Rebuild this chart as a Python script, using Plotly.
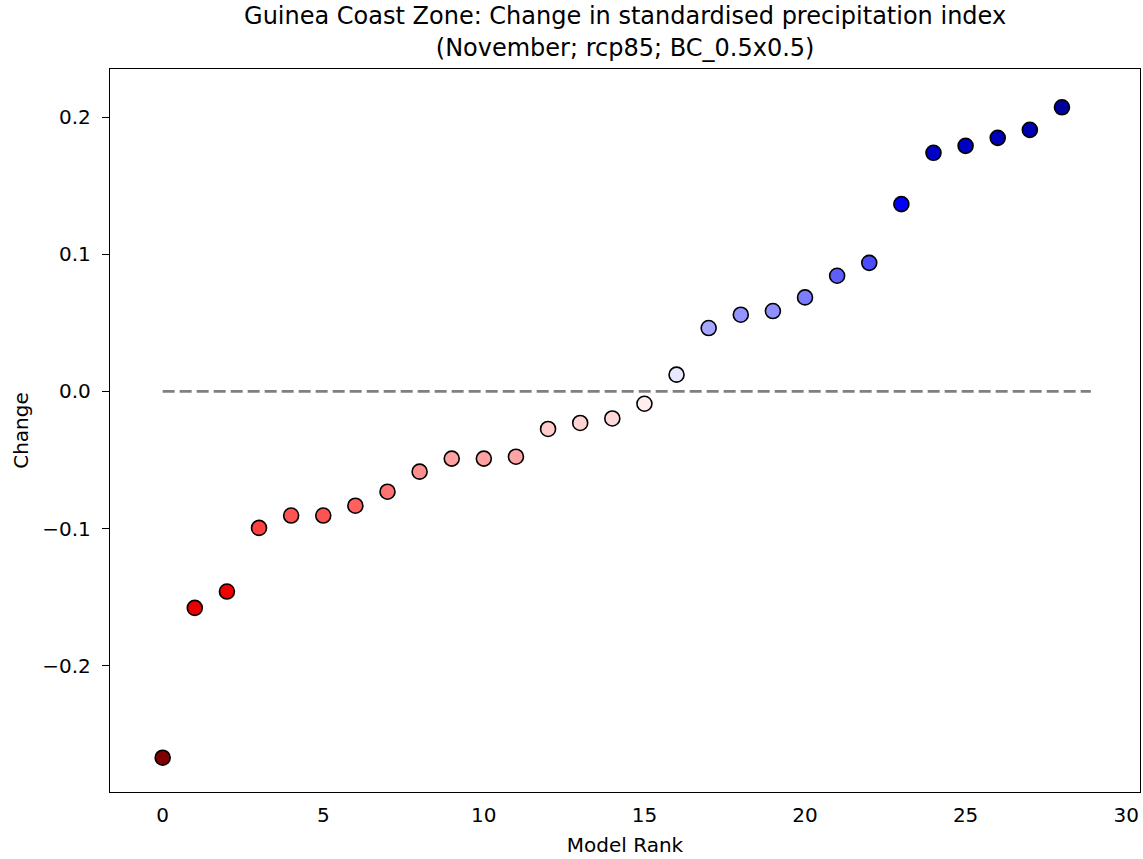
import plotly.graph_objects as go

# ---- data ----
model_rank = list(range(29))
change = [-0.267, -0.1578, -0.1459, -0.0995, -0.0905, -0.0905, -0.0833, -0.0731,
          -0.0585, -0.0490, -0.0490, -0.0476, -0.0274, -0.0230, -0.0197, -0.0090,
          0.0122, 0.0462, 0.0559, 0.0586, 0.0685, 0.0843, 0.0937, 0.1365,
          0.1739, 0.1790, 0.1848, 0.1906, 0.2071]
zero_line_x = [0, 28.9]
zero_line_y = [0, 0]
x_ticks = [0, 5, 10, 15, 20, 25, 30]
y_ticks = [-0.2, -0.1, 0.0, 0.1, 0.2]
y_tick_text = ["\u22120.2", "\u22120.1", "0.0", "0.1", "0.2"]

title_text = ("Guinea Coast Zone: Change in standardised precipitation index<br>"
              "(November; rcp85; BC_0.5x0.5)")

# seismic_r colour scale
seismic_r = [[0.0, "rgb(127,0,0)"], [0.25, "rgb(255,0,0)"], [0.5, "rgb(255,255,255)"],
             [0.75, "rgb(0,0,255)"], [1.0, "rgb(0,0,77)"]]
vmax = max(abs(v) for v in change)

FONT = "DejaVu Sans"

fig = go.Figure()
fig.add_trace(go.Scatter(
    x=zero_line_x, y=zero_line_y, mode="lines",
    line=dict(color="#808080", width=2.7, dash="12px,5px"),
    hoverinfo="skip", showlegend=False))
fig.add_trace(go.Scatter(
    x=model_rank, y=change, mode="markers",
    marker=dict(size=15, color=change, colorscale=seismic_r, cmin=-vmax, cmax=vmax,
                line=dict(color="black", width=1.6)),
    showlegend=False))

fig.update_layout(
    width=1143, height=859,
    paper_bgcolor="white", plot_bgcolor="white",
    margin=dict(l=110, r=3, t=69, b=67),
    font=dict(family=FONT, size=20, color="black"),
    title=dict(text=title_text, x=0.5469, xanchor="center",
               y=0.9717, yref="container", yanchor="top",
               font=dict(family=FONT, size=24, color="black")),
)
fig.update_xaxes(
    range=[-1.64, 30.43], tickvals=x_ticks, ticks="", showgrid=False, zeroline=False,
    showline=True, linecolor="black", linewidth=1.3, mirror=True,
    ticklabelstandoff=5,
    title=dict(text="Model Rank", standoff=11, font=dict(size=20)),
    tickfont=dict(size=20))
fig.update_yaxes(
    range=[-0.292, 0.235], tickvals=y_ticks, ticktext=y_tick_text,
    ticks="outside", ticklen=7, tickwidth=1.3, tickcolor="black",
    showgrid=False, zeroline=False,
    showline=True, linecolor="black", linewidth=1.3, mirror=True,
    ticklabelstandoff=7,
    title=dict(text="Change", standoff=8, font=dict(size=20)),
    tickfont=dict(size=20))

fig.write_html("out.html", config={"displayModeBar": False},
               post_script="document.body.style.margin='0';")
